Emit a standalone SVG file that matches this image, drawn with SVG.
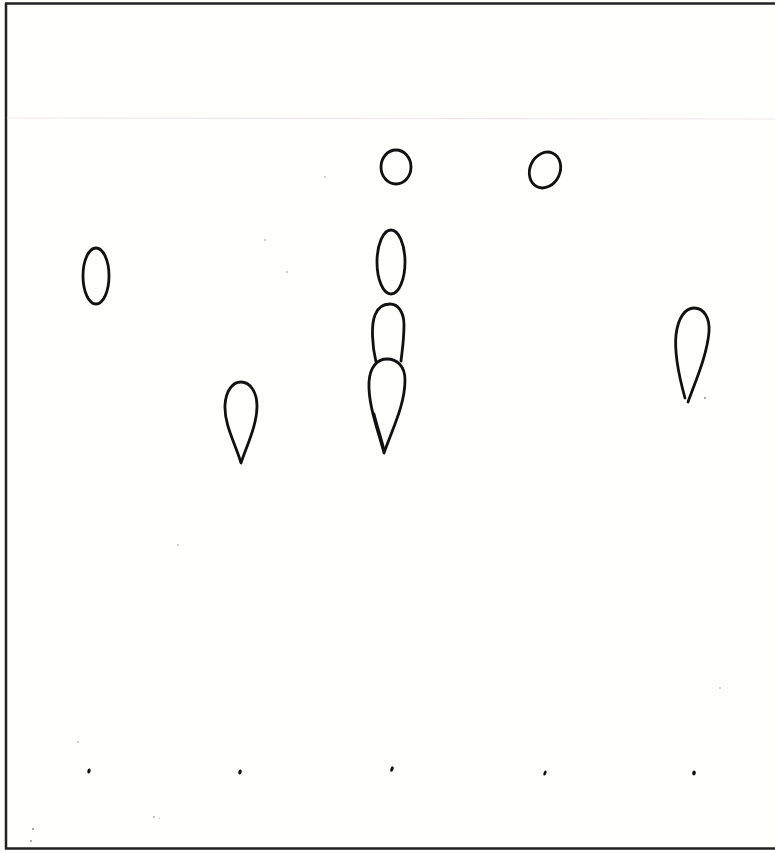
<svg xmlns="http://www.w3.org/2000/svg" width="775" height="851" viewBox="0 0 775 851">
<style>
.spot{fill:none;stroke:#111;stroke-width:2.8;stroke-linejoin:round;stroke-linecap:round}
.frame{stroke:#222;stroke-width:2.5;fill:none}
.dot{fill:#111}
.speck{fill:#888}
</style>
<rect x="0" y="0" width="775" height="851" fill="#fefefb"/>
<g id="frame">
<line class="frame" x1="5" y1="3.5" x2="775" y2="3.5"/>
<line class="frame" x1="6" y1="3" x2="6" y2="849"/>
<line class="frame" x1="5" y1="848.5" x2="775" y2="848.5"/>
<line x1="7" y1="118" x2="775" y2="119" stroke="#f3e6ea" stroke-width="1.2"/>
</g>
<g id="lane1">
<ellipse class="spot" cx="96" cy="276" rx="13" ry="28"/>
<ellipse class="dot" cx="89" cy="771" rx="1.6" ry="2.6" transform="rotate(15 89 771)"/>
</g>
<g id="lane2">
<path class="spot" d="M241,463 C236,445 224,425 225,405 C226,390 233,382 241,382 C250,382 257,392 257,406 C257,425 247,445 241,463 Z"/>
<ellipse class="dot" cx="240" cy="772" rx="1.7" ry="2.6" transform="rotate(15 240 772)"/>
</g>
<g id="lane3">
<ellipse class="spot" cx="396" cy="167" rx="15" ry="17"/>
<ellipse class="spot" cx="391" cy="262" rx="14" ry="32"/>
<path class="spot" d="M376,362 C372,345 371,325 375,315 C378,307 384,304 390,304 C398,304 404,312 404,325 C404,340 402,352 401,361"/>
<path class="spot" d="M384,453 C378,430 368,405 369,382 C370,366 378,359 387,359 C397,359 405,366 405,380 C405,405 392,430 384,453 Z"/>
<path class="spot" d="M384,450 C381,438 377,426 374,414"/>
<ellipse class="dot" cx="392" cy="769" rx="1.6" ry="2.7" transform="rotate(20 392 769)"/>
</g>
<g id="lane4">
<ellipse class="spot" cx="545" cy="170" rx="15" ry="18.5" transform="rotate(25 545 170)"/>
<ellipse class="dot" cx="545" cy="773" rx="1.4" ry="2.7" transform="rotate(20 545 773)"/>
</g>
<g id="lane5">
<path class="spot" d="M685,398 C680,380 674,355 676,335 C678,318 685,308 694,308 C704,308 710,318 709,332 C707,355 696,380 688,402"/>
<circle class="speck" cx="705" cy="398" r="0.9"/>
<ellipse class="dot" cx="694" cy="773" rx="1.8" ry="2.4" transform="rotate(15 694 773)"/>
</g>
<g id="specks">
<circle class="speck" cx="33" cy="829" r="1"/>
<circle class="speck" cx="31" cy="841" r="0.9"/>
<circle class="speck" cx="154" cy="817" r="0.8"/>
<circle class="speck" cx="159" cy="818" r="0.6"/>
<circle class="speck" cx="265" cy="240" r="0.7"/>
<circle class="speck" cx="287" cy="272" r="0.7"/>
<circle class="speck" cx="325" cy="177" r="0.7"/>
<circle class="speck" cx="178" cy="545" r="0.7"/>
<circle class="speck" cx="720" cy="688" r="0.7"/>
<circle class="speck" cx="78" cy="742" r="0.7"/>
</g>
</svg>
